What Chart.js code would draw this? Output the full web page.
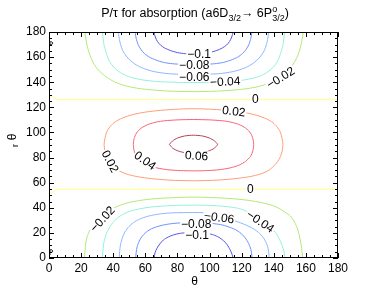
<!DOCTYPE html>
<html><head><meta charset="utf-8">
<script src="https://cdn.jsdelivr.net/npm/chart.js@4"></script>
<style>html,body{margin:0;padding:0;background:#fff}canvas{display:block}</style>
</head><body>
<canvas id="c" width="374" height="291"></canvas>
<script>
// ---------- data (theta, theta_r) ----------
const xTicks = [0,20,40,60,80,100,120,140,160,180];
const yTicks = [0,20,40,60,80,100,120,140,160,180];
const minorStep = 5;
const majorStep = 20;

const cN10T = [[65.3,180],[66.2,176],[67.5,172.5],[69.5,169.5],[72,167.3],[75.5,165.3],[80,163.6],[85,162.7],[90,162.4],[95,162.7],[100,163.6],[104.5,165.3],[108,167.3],[110.5,169.5],[112.5,172.5],[113.8,176],[114.7,180]];
const cN08T = [[53.6,180],[54.3,175],[55.5,170],[57.3,166],[59.5,162.8],[62.5,160],[66.5,157.7],[71.3,155.8],[77,154.7],[83,154.3],[90,154.2],[97,154.3],[103,154.7],[108.7,155.8],[113.5,157.7],[117.5,160],[120.5,162.8],[122.7,166],[124.5,170],[125.7,175],[126.4,180]];
const cN06T = [[43.2,180],[43.7,175],[44.6,170],[46,165],[48,161],[50.5,157.5],[53.5,154.5],[57,152],[61,150],[66,148.3],[73.4,146.9],[81,146.4],[90,146.2],[99,146.4],[106.6,146.9],[114,148.3],[119,150],[123,152],[126.5,154.5],[129.5,157.5],[132,161],[134,165],[135.4,170],[136.3,175],[136.8,180]];
const cN04T = [[33.3,180],[33.7,175],[34.3,169.5],[35.5,164],[37,158.5],[39,154],[41.5,150.5],[44.5,147.6],[48.5,145],[53,143.2],[58.5,141.8],[67,140.6],[78,140],[90,139.8],[102,140],[113,140.6],[121.5,141.8],[127,143.2],[131.5,145],[135.5,147.6],[138.5,150.5],[141,154],[143,158.5],[144.5,164],[145.7,169.5],[146.3,175],[146.7,180]];
const cN02T = [[22.4,180],[22.9,175],[23.6,170],[24.6,165],[26,160],[27.8,155],[30.2,150.5],[33,147],[36.5,143.5],[40.5,140.5],[45,138.2],[50,136.4],[56,135],[63,134],[71,133.2],[80,132.7],[90,132.5],[100,132.7],[109,133.2],[117,134],[124,135],[130,136.4],[135,138.3],[139.5,140.7],[143.5,143.7],[147,147.3],[150,151],[152.5,155.3],[154.5,160],[156,165],[157,170],[157.8,175],[158.3,180]];
const cZeroT = [[0,130.4],[4.8,126.1],[180,126.1]];
const cP02 = [[34.3,90.5],[34.8,95],[36,100.5],[38,104.5],[40.5,107.8],[44.5,110.8],[50.5,113.6],[58,115.8],[67,117.3],[78,118.4],[90,118.9],[102,118.4],[113,117.3],[122,115.8],[129.5,113.6],[135.5,110.8],[139.5,107.8],[142,104.5],[144,100.5],[145.2,95],[145.7,90.5],[145.2,85],[143.7,79.5],[141,74.5],[137,70],[132,67],[125,64.8],[116,63.2],[104.6,62],[90,61.5],[75.4,62],[64,63.2],[55,64.8],[48,67],[43,70],[39,74.5],[36.3,79.5],[34.8,85],[34.3,90.5]];
const cP04 = [[52.5,90.5],[53,95],[54.5,99.5],[57.5,103.5],[62,106.5],[67,108.3],[72,109.3],[80,110],[90,110.3],[100,110],[108,109.3],[113,108.3],[118,106.5],[122.5,103.5],[125.5,99.5],[127,95],[127.5,90.5],[127,85.5],[125.5,81],[122.5,77],[118.5,74],[113,71.8],[106,70.3],[98,69.6],[90,69.4],[82,69.6],[74,70.3],[67,71.8],[61.5,74],[57.5,77],[54.5,81],[53,85.5],[52.5,90.5]];
const cP06 = [[75,90.5],[77,93.3],[80,95.5],[84.5,97.2],[90,97.8],[95.5,97.2],[100,95.5],[103,93.3],[105,90.5],[103,87.5],[99.5,85.2],[95,83.8],[90,83.4],[85,83.8],[80.5,85.2],[77,87.5],[75,90.5]];
const cZeroB = [[0,50.3],[4.8,54.8],[180,54.8]];
const cN02B = [[22,0],[22.4,5],[22.9,11.7],[23.8,17],[25.2,21.5],[28.5,26.8],[32,31.2],[36,35.6],[41,40.2],[48.5,43.8],[55,45.5],[61,46.6],[70,47.6],[80,48.2],[90,48.5],[100,48.2],[110,47.6],[119,46.7],[126,45.6],[131.5,44.3],[136,43],[140,41.5],[144,39],[147.5,36],[150.3,33.5],[152.5,29.5],[154.3,25],[155.6,19.5],[156.8,12],[157.5,6],[158,0]];
const cN04B = [[33.3,0],[33.6,6],[34.1,11.7],[35,16.5],[36.3,21],[38,25],[40.3,29],[43.5,32.7],[47.4,35.7],[52.5,38],[58.8,39.7],[66,40.9],[74,41.6],[82,42],[90,42.1],[98,42],[106,41.5],[113,40.6],[118,39.5],[122,37.8],[126.5,34.3],[131.5,29.4],[136.5,24.5],[141,20.5],[143.5,15],[145.2,10],[146.4,5],[147,0]];
const cN06B = [[43.7,0],[44,5],[44.5,10.4],[45.7,16],[47.4,21],[49.8,25],[52.6,28.2],[56.5,31],[60.9,33],[66.5,34.6],[73.4,35.7],[81,36.1],[90,36.2],[97,36],[102,35],[106,33.7],[111,31.5],[117,29],[122,26.6],[127,23.5],[131.3,19.5],[134.4,14.4],[136.2,9],[136.9,4],[137.1,0]];
const cN08B = [[54,0],[54.3,4.5],[54.9,9],[56.2,13.5],[57.8,17],[60.2,20.2],[63,22.8],[67,24.8],[71.3,26.3],[76,27.3],[81,27.9],[90,28.2],[98,27.9],[103,27.3],[108,26.3],[112.9,24.3],[117,22],[120.5,18.5],[123.3,14],[125.2,9],[126.1,4.5],[126.4,0]];
const cN10B = [[65.5,0],[66,4],[67.2,7.7],[69,11.2],[71.3,14.4],[74.2,16.7],[77.5,18.4],[81,19.5],[85,20.1],[90,20.3],[95,20.1],[99,19.5],[102.5,18.4],[105.8,16.5],[108.7,13.8],[111,10.5],[112.8,6.5],[114,3],[114.6,0]];
const markTop = [[0.6,168.8],[0.6,172],[1.4,172.2],[2.2,171.6],[2.2,170.6],[1.4,170.1],[0.6,170.3]];
const markBot = [[0.6,2.4],[0.6,6.4],[1.4,6.6],[2.2,6],[2.2,5],[1.4,4.5],[0.6,4.7]];

const labelTexts = ['\u22120.1','\u22120.08','\u22120.06','\u22120.04','\u22120.02','0','0.02','0.02','0.04','0.06','0','\u22120.02','\u22120.06','\u22120.04','\u22120.08','\u22120.1'];
const labelAt = [[93.5,162.3],[90.5,153.2],[90.5,144.2],[109.8,140.4],[144.3,143.5],[128.5,126.1],[115.1,116.8],[38,76.9],[59.8,77.5],[91.9,81.3],[125.4,54.8],[33.3,31],[106,32.2],[131.6,29],[91.7,27.1],[92.3,18.1]];

// ---------- styles ----------
const labelAngle = [0,0,0,-3,-32,0,7,62,35,3,0,-47,8,34,0,0];
const lineColor = {'-0.1':'#5454e8','-0.08':'#6e8eff','-0.06':'#8cb6ff','-0.04':'#92f0dc','-0.02':'#b2e872','0':'#ffff84','0.02':'#ff9c74','0.04':'#f66272','0.06':'#b04452','mark':'#000000'};
const sets = [
  ['-0.1',cN10T],['-0.08',cN08T],['-0.06',cN06T],['-0.04',cN04T],['-0.02',cN02T],['0',cZeroT],
  ['0.02',cP02],['0.04',cP04],['0.06',cP06],['0',cZeroB],
  ['-0.02',cN02B],['-0.04',cN04B],['-0.06',cN06B],['-0.08',cN08B],['-0.1',cN10B],
  ['mark',markTop],['mark',markBot]
];
const FONT = '"Liberation Sans", Arial, Helvetica, sans-serif';

const datasets = sets.map(([lv,d]) => ({
  data: d.map(p => ({x:p[0], y:p[1]})),
  showLine: true, borderColor: lineColor[lv], backgroundColor: lineColor[lv],
  borderWidth: 1, pointRadius: 0, fill: false,
  tension: (lv === '0') ? 0 : 0.25
}));

const decor = {
  id: 'decor',
  afterDatasetsDraw(chart) {
    const {ctx, chartArea: a, scales: {x, y}} = chart;
    ctx.save();
    ctx.font = '12px ' + FONT;
    ctx.textAlign = 'center';
    ctx.textBaseline = 'middle';
    // white gaps under labels
    labelTexts.forEach((t, i) => {
      const px = x.getPixelForValue(labelAt[i][0]), py = y.getPixelForValue(labelAt[i][1]);
      const w = ctx.measureText(t).width;
      ctx.save(); ctx.translate(px, py); ctx.rotate(labelAngle[i] * Math.PI / 180);
      ctx.fillStyle = '#fff'; ctx.fillRect(-w/2 - 1, -5, w + 2, 10);
      ctx.restore();
    });
    labelTexts.forEach((t, i) => {
      const px = x.getPixelForValue(labelAt[i][0]), py = y.getPixelForValue(labelAt[i][1]);
      ctx.save(); ctx.translate(px, py); ctx.rotate(labelAngle[i] * Math.PI / 180);
      ctx.fillStyle = '#000'; ctx.fillText(t, 0, 0.5);
      ctx.restore();
    });
    // frame
    ctx.strokeStyle = '#000'; ctx.lineWidth = 1;
    ctx.strokeRect(a.left + 0.5, a.top + 0.5, a.right - a.left - 1, a.bottom - a.top - 1);
    // inward ticks
    ctx.beginPath();
    for (let v = xTicks[0]; v <= xTicks[xTicks.length-1]; v += minorStep) {
      const L = (v % majorStep === 0) ? 5 : 3;
      const px = Math.round(x.getPixelForValue(v)) + 0.5;
      ctx.moveTo(px, a.bottom); ctx.lineTo(px, a.bottom - L);
      ctx.moveTo(px, a.top); ctx.lineTo(px, a.top + L);
    }
    for (let v = yTicks[0]; v <= yTicks[yTicks.length-1]; v += minorStep) {
      const L = (v % majorStep === 0) ? 5 : 3;
      const py = Math.round(y.getPixelForValue(v)) + 0.5;
      ctx.moveTo(a.left, py); ctx.lineTo(a.left + L, py);
      ctx.moveTo(a.right, py); ctx.lineTo(a.right - L, py);
    }
    ctx.stroke();
    ctx.restore();
  },
  afterDraw(chart) {
    const {ctx} = chart;
    ctx.save();
    ctx.fillStyle = '#000';
    ctx.textBaseline = 'alphabetic';
    ctx.textAlign = 'left';
    const big = '12.5px ' + FONT, small = '9px ' + FONT;
    const parts = [
      {t:'P/\u03c4 for absorption (a6D', f:big, dy:0},
      {t:'3/2', f:small, dy:4},
      {t:'\u2192 6P', f:big, dy:0},
      {t:'o', f:small, dy:-5, stack:'3/2'},
      {t:')', f:big, dy:0}
    ];
    let total = 0;
    parts.forEach(p => {
      ctx.font = p.f;
      let w = ctx.measureText(p.t).width;
      if (p.stack) w = Math.max(w, ctx.measureText(p.stack).width);
      p.w = w; total += w;
    });
    let cx = 195 - total / 2;
    const base = 17;
    parts.forEach(p => {
      ctx.font = p.f;
      ctx.fillText(p.t, cx, base + p.dy);
      if (p.stack) ctx.fillText(p.stack, cx, base + 4);
      cx += p.w;
    });
    // x axis title
    ctx.font = '12px ' + FONT;
    ctx.textAlign = 'center';
    ctx.textBaseline = 'middle';
    ctx.fillText('\u03b8', 194.5, 282);
    // y axis title
    ctx.save();
    ctx.translate(12.5, 137);
    ctx.rotate(-Math.PI / 2);
    ctx.fillText('\u03b8', 0, 0);
    ctx.restore();
    ctx.save();
    ctx.translate(16, 145.5);
    ctx.rotate(-Math.PI / 2);
    ctx.font = '9px ' + FONT;
    ctx.fillText('r', 0, 0);
    ctx.restore();
    ctx.restore();
  }
};

new Chart(document.getElementById('c'), {
  type: 'scatter',
  data: { datasets },
  options: {
    responsive: false, animation: false, devicePixelRatio: 1,
    layout: { padding: { top: 32, right: 36, left: 0, bottom: 0 } },
    plugins: { legend: { display: false }, tooltip: { enabled: false }, title: { display: false } },
    scales: {
      x: {
        type: 'linear', min: 0, max: 180,
        afterBuildTicks: s => { s.ticks = xTicks.map(v => ({ value: v })); },
        afterFit: s => { s.height = 33; },
        ticks: { color: '#000', font: { family: FONT, size: 12 }, padding: 3, maxRotation: 0, autoSkip: false },
        grid: { display: false, drawTicks: false },
        border: { display: false }
      },
      y: {
        type: 'linear', min: 0, max: 180,
        afterBuildTicks: s => { s.ticks = yTicks.map(v => ({ value: v })); },
        afterFit: s => { s.width = 49; },
        ticks: { color: '#000', font: { family: FONT, size: 12 }, padding: 3, autoSkip: false },
        grid: { display: false, drawTicks: false },
        border: { display: false }
      }
    }
  },
  plugins: [decor]
});
</script>
</body></html>
